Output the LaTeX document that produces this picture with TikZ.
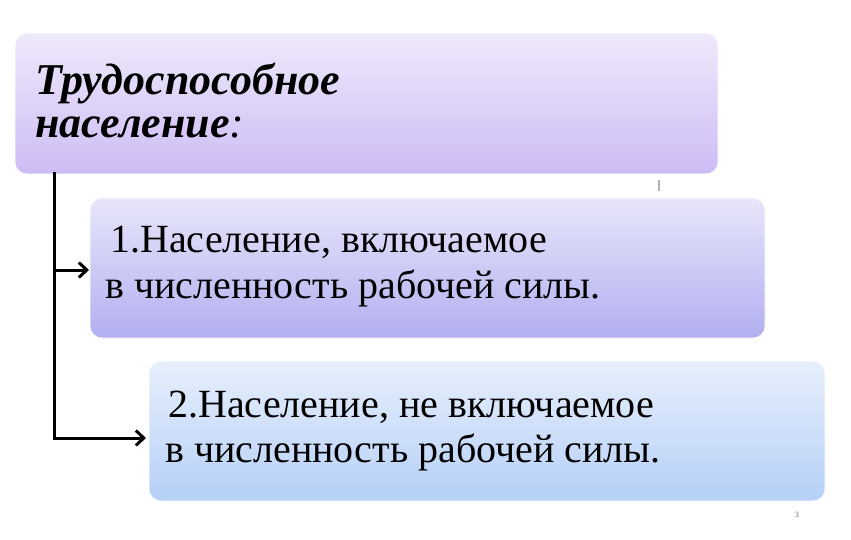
\documentclass[tikz,border=0pt]{standalone}
\usepackage{fontspec}
\setmainfont{Liberation Serif}
\usetikzlibrary{arrows.meta}
\definecolor{aTop}{HTML}{EFE9FB}
\definecolor{aBot}{HTML}{CDBCF5}
\definecolor{bTop}{HTML}{E7E6FA}
\definecolor{bBot}{HTML}{B2AFF0}
\definecolor{cTop}{HTML}{E7EFFB}
\definecolor{cBot}{HTML}{B6D0F8}
\tikzset{
  panel/.style={rounded corners=12pt, draw=white, line width=0.6pt},
  conn/.style={line width=3pt, line cap=rect},
  arr/.style={conn, -{Straight Barb[length=8pt,width=15pt,line width=3pt]}},
  txt/.style={anchor=base west, inner sep=0pt, font=\fontsize{40}{40}\selectfont}
}
\begin{document}
\begin{tikzpicture}[x=1pt,y=-1pt]
\useasboundingbox (0,0) rectangle (851,540);
\fill[white] (0,0) rectangle (851,540);
% boxes
\shade[panel, top color=aTop, bottom color=aBot] (15,33) rectangle (718,174);
\shade[panel, top color=bTop, bottom color=bBot] (90,198) rectangle (765,338);
\shade[panel, top color=cTop, bottom color=cBot] (149,361) rectangle (825,501);
\coordinate (Abot) at (54,174);
\coordinate (B) at (89,270);
\coordinate (C) at (146,438);
\coordinate (j1) at (54,270);
\coordinate (j2) at (54,438);
% texts
\node[txt, font=\fontsize{44}{44}\selectfont\bfseries\itshape] (t1) at (35,95) {Трудоспособное};
\node[txt, font=\fontsize{44}{44}\selectfont\bfseries\itshape] (t2) at (35,138) {население\textmd{:}};
\node[txt] (t3) at (110,252) {1.Население, включаемое};
\node[txt] (t4) at (105,298) {в численность рабочей силы.};
\node[txt] (t5) at (168,417) {2.Население, не включаемое};
\node[txt] (t6) at (165,462) {в численность рабочей силы.};
% connectors
\draw[conn] (Abot) -- (j2);
\draw[arr] (j1) -- (B);
\draw[arr] (j2) -- (C);
% small marks
\draw[gray!60, line width=1.2pt] (659,180) -- (659,191);
\node[inner sep=0pt, text=gray, font=\fontsize{8}{8}\selectfont\sffamily] (pg) at (797,515) {3};
\end{tikzpicture}
\end{document}
